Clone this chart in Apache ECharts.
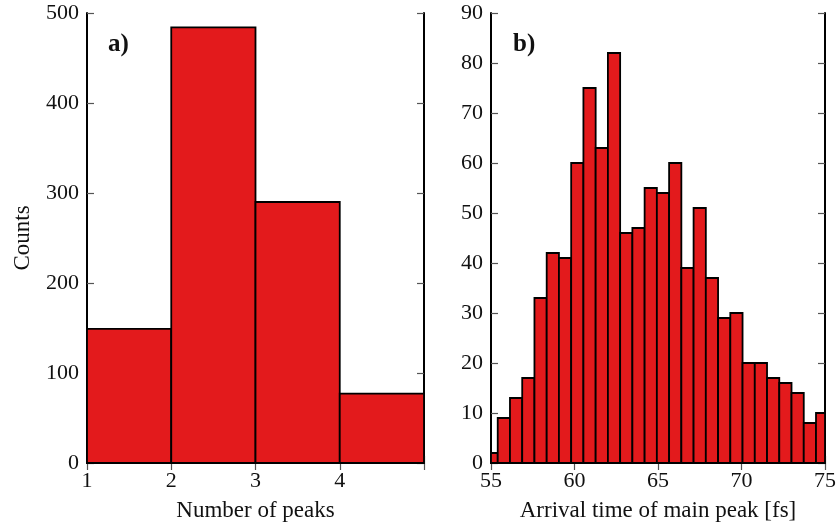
<!DOCTYPE html>
<html>
<head>
<meta charset="utf-8">
<script src="https://cdn.jsdelivr.net/npm/echarts@6/dist/echarts.min.js"></script>
<style>
  html, body { margin: 0; padding: 0; background: #fff; }
  #chart { width: 840px; height: 532px; }
</style>
</head>
<body>
<div id="chart"></div>
<script>
// Panel a): number of peaks per shot, bins [1,2), [2,3), [3,4), [4,5)
const peakBinEdges = [1, 2, 3, 4, 5];
const peakCounts = [149, 484, 290, 77];

// Panel b): arrival time of the main peak, equal-width bins
const arrivalBinStart = 54.67;   // fs, left edge of the first bin
const arrivalBinWidth = 0.733;   // fs
const arrivalCounts = [2, 9, 13, 17, 33, 42, 41, 60, 75, 63, 82, 46, 47, 55,
                       54, 60, 39, 51, 37, 29, 30, 20, 20, 17, 16, 14, 8, 10];

// Axis tick labels
const peakTicks = [1, 2, 3, 4];
const arrivalTicks = [55, 60, 65, 70, 75];

const FONT = 'Liberation Serif';
const BAR_FILL = '#e31a1c';

function histData(edges, counts) {
  return counts.map((c, i) => [edges[i], edges[i + 1], c]);
}
const peakData = histData(peakBinEdges, peakCounts);
const arrivalEdges = arrivalCounts.map((_, i) => arrivalBinStart + i * arrivalBinWidth)
  .concat([arrivalBinStart + arrivalCounts.length * arrivalBinWidth]);
const arrivalData = histData(arrivalEdges, arrivalCounts);

function renderBin(params, api) {
  const p0 = api.coord([api.value(0), 0]);
  const p1 = api.coord([api.value(1), api.value(2)]);
  const cs = params.coordSys;
  const rect = echarts.graphic.clipRectByRect(
    { x: p0[0], y: p1[1], width: p1[0] - p0[0], height: p0[1] - p1[1] },
    { x: cs.x, y: cs.y, width: cs.width, height: cs.height }
  );
  if (!rect) return null;
  return {
    type: 'rect',
    shape: rect,
    style: { fill: BAR_FILL, stroke: '#000', lineWidth: 1.8 }
  };
}

const grids = [
  { left: 87, right: 416, top: 13, bottom: 69 },
  { left: 491, right: 15, top: 13, bottom: 69 }
];

const tickStyle = { inside: true, length: 7, lineStyle: { color: '#555', width: 1.2 } };
const lineStyle = { show: true, lineStyle: { color: '#000', width: 2 } };
const labelStyle = { fontFamily: FONT, fontSize: 22, color: '#111' };
const nameStyle = { fontFamily: FONT, fontSize: 23, color: '#111' };

function xAxes(gridIndex, min, max, interval, ticks, name) {
  return [
    {
      type: 'value', gridIndex, min, max, interval, position: 'bottom',
      name, nameLocation: 'middle', nameGap: 36, nameTextStyle: nameStyle,
      axisLine: lineStyle, axisTick: tickStyle, splitLine: { show: false },
      axisLabel: Object.assign({ margin: 7,
        formatter: v => ticks.includes(v) ? String(v) : '' }, labelStyle)
    },
    {
      type: 'value', gridIndex, min, max, interval, position: 'top',
      axisLine: lineStyle, axisTick: tickStyle, splitLine: { show: false },
      axisLabel: { show: false }
    }
  ];
}

function yAxes(gridIndex, max, interval, name) {
  return [
    {
      type: 'value', gridIndex, min: 0, max, interval, position: 'left',
      name, nameLocation: 'middle', nameGap: 53, nameTextStyle: nameStyle,
      axisLine: lineStyle, axisTick: tickStyle, splitLine: { show: false },
      axisLabel: Object.assign({ margin: 8 }, labelStyle)
    },
    {
      type: 'value', gridIndex, min: 0, max, interval, position: 'right',
      axisLine: lineStyle, axisTick: tickStyle, splitLine: { show: false },
      axisLabel: { show: false }
    }
  ];
}

const chart = echarts.init(document.getElementById('chart'), null, { renderer: 'canvas' });
chart.setOption({
  animation: false,
  backgroundColor: '#fff',
  grid: grids,
  xAxis: [
    ...xAxes(0, 1, 5, 1, peakTicks, 'Number of peaks'),
    ...xAxes(1, 55, 75, 5, arrivalTicks, 'Arrival time of main peak [fs]')
  ],
  yAxis: [
    ...yAxes(0, 500, 100, 'Counts'),
    ...yAxes(1, 90, 10, '')
  ],
  series: [
    { type: 'custom', xAxisIndex: 0, yAxisIndex: 0, renderItem: renderBin,
      encode: { x: [0, 1], y: 2 }, data: peakData, z: 1 },
    { type: 'custom', xAxisIndex: 2, yAxisIndex: 2, renderItem: renderBin,
      encode: { x: [0, 1], y: 2 }, data: arrivalData, z: 1 }
  ],
  graphic: [
    { type: 'text', left: 108, top: 32,
      style: { text: 'a)', font: 'bold 25px "Liberation Serif"', fill: '#111' } },
    { type: 'text', left: 513, top: 32,
      style: { text: 'b)', font: 'bold 25px "Liberation Serif"', fill: '#111' } }
  ]
});
</script>
</body>
</html>
